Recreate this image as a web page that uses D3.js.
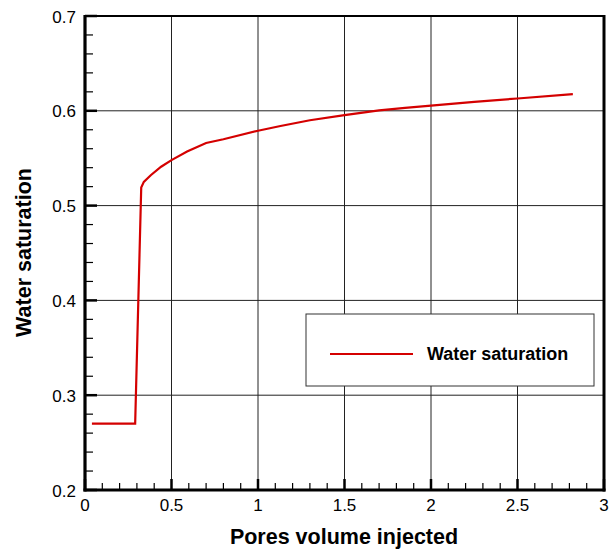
<!DOCTYPE html>
<html><head><meta charset="utf-8">
<script src="https://cdn.jsdelivr.net/npm/d3@7"></script>
<style>body{margin:0;background:#fff}svg{display:block}</style>
</head><body>
<script>
const pvi = [0.04, 0.29, 0.325, 0.34, 0.38, 0.44, 0.5, 0.59, 0.7, 0.8, 1.0, 1.13, 1.3, 1.5, 1.7, 1.85, 2.0, 2.25, 2.5, 2.82];
const sw  = [0.27, 0.27, 0.519, 0.525, 0.532, 0.541, 0.548, 0.557, 0.566, 0.570, 0.579, 0.584, 0.590, 0.5955, 0.6005, 0.603, 0.6055, 0.6095, 0.613, 0.6175];
const xTicks = [0, 0.5, 1, 1.5, 2, 2.5, 3];
const yTicks = [0.2, 0.3, 0.4, 0.5, 0.6, 0.7];
const seriesName = "Water saturation";

const W = 613, H = 552;
const m = {l: 85, t: 16, r: 9, b: 62};
const svg = d3.select("body").append("svg").attr("width", W).attr("height", H);
const x = d3.scaleLinear().domain([0, 3]).range([m.l, W - m.r]);
const y = d3.scaleLinear().domain([0.2, 0.7]).range([H - m.b, m.t]);
const font = "Liberation Sans, Arial, sans-serif";

// grid
svg.append("g").selectAll("line").data(xTicks.slice(1, -1)).join("line")
  .attr("x1", d => x(d)).attr("x2", d => x(d)).attr("y1", y(0.7)).attr("y2", y(0.2))
  .attr("stroke", "#222").attr("stroke-width", 1);
svg.append("g").selectAll("line").data(yTicks.slice(1, -1)).join("line")
  .attr("y1", d => y(d)).attr("y2", d => y(d)).attr("x1", x(0)).attr("x2", x(3))
  .attr("stroke", "#222").attr("stroke-width", 1);

// minor ticks
const xMinor = d3.range(0, 3.001, 0.1).filter(v => Math.abs(v * 2 - Math.round(v * 2)) > 1e-6);
const yMinor = d3.range(0.2, 0.7001, 0.02).filter(v => Math.abs(v * 10 - Math.round(v * 10)) > 1e-6);
svg.append("g").selectAll("line").data(xMinor).join("line")
  .attr("x1", d => x(d)).attr("x2", d => x(d)).attr("y1", y(0.2)).attr("y2", y(0.2) - 7)
  .attr("stroke", "#000").attr("stroke-width", 1.2);
svg.append("g").selectAll("line").data(yMinor).join("line")
  .attr("y1", d => y(d)).attr("y2", d => y(d)).attr("x1", x(0)).attr("x2", x(0) + 8)
  .attr("stroke", "#000").attr("stroke-width", 1.2);
// major ticks
svg.append("g").selectAll("line").data(xTicks).join("line")
  .attr("x1", d => x(d)).attr("x2", d => x(d)).attr("y1", y(0.2)).attr("y2", y(0.2) - 11)
  .attr("stroke", "#000").attr("stroke-width", 2.5);
svg.append("g").selectAll("line").data(yTicks).join("line")
  .attr("y1", d => y(d)).attr("y2", d => y(d)).attr("x1", x(0)).attr("x2", x(0) + 12)
  .attr("stroke", "#000").attr("stroke-width", 2.5);

// frame
svg.append("rect").attr("x", x(0)).attr("y", y(0.7)).attr("width", x(3) - x(0)).attr("height", y(0.2) - y(0.7))
  .attr("fill", "none").attr("stroke", "#000").attr("stroke-width", 2);
svg.append("line").attr("x1", x(0)).attr("x2", x(0)).attr("y1", y(0.7) - 1).attr("y2", y(0.2) + 1.5).attr("stroke", "#000").attr("stroke-width", 3.2);
svg.append("line").attr("x1", x(0) - 1.5).attr("x2", x(3) + 1.5).attr("y1", y(0.2)).attr("y2", y(0.2)).attr("stroke", "#000").attr("stroke-width", 3.2);
svg.append("line").attr("x1", x(3)).attr("x2", x(3)).attr("y1", y(0.7) - 1).attr("y2", y(0.2) + 1.5).attr("stroke", "#000").attr("stroke-width", 3);

// tick labels
svg.append("g").selectAll("text").data(xTicks).join("text")
  .attr("x", d => x(d)).attr("y", y(0.2) + 20.5).attr("text-anchor", "middle")
  .attr("font-family", font).attr("font-size", 17).attr("fill", "#000")
  .text(d => d3.format("")(d));
svg.append("g").selectAll("text").data(yTicks).join("text")
  .attr("x", x(0) - 9).attr("y", d => y(d) + 6.5).attr("text-anchor", "end")
  .attr("font-family", font).attr("font-size", 17).attr("fill", "#000")
  .text(d => d.toFixed(1));

// axis titles
svg.append("text").attr("x", 344).attr("y", 544).attr("text-anchor", "middle")
  .attr("font-family", font).attr("font-size", 21.5).attr("font-weight", "bold").text("Pores volume injected");
svg.append("text").attr("transform", "translate(31,252.5) rotate(-90)").attr("text-anchor", "middle")
  .attr("font-family", font).attr("font-size", 21.5).attr("font-weight", "bold").text("Water saturation");

// curve
const line = d3.line().x((d, i) => x(pvi[i])).y((d, i) => y(sw[i]));
svg.append("path").datum(sw).attr("d", line).attr("fill", "none")
  .attr("stroke", "#d40000").attr("stroke-width", 2.2).attr("stroke-linejoin", "miter");

// legend
const lg = svg.append("g");
lg.append("rect").attr("x", 306).attr("y", 314).attr("width", 288).attr("height", 72)
  .attr("fill", "#fff").attr("stroke", "#333").attr("stroke-width", 1);
lg.append("line").attr("x1", 330).attr("x2", 413).attr("y1", 354).attr("y2", 354)
  .attr("stroke", "#d40000").attr("stroke-width", 2.2);
lg.append("text").attr("x", 427).attr("y", 360).attr("font-family", font).attr("font-size", 18)
  .attr("font-weight", "bold").text(seriesName);
</script>
</body></html>
